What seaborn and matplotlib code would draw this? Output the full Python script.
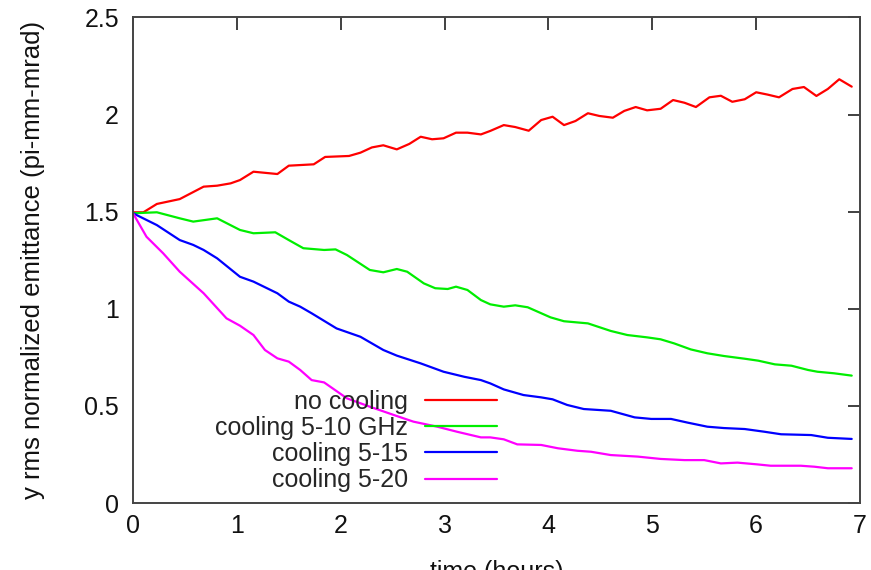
import matplotlib
matplotlib.use("Agg")
import matplotlib.pyplot as plt
import seaborn as sns
import pandas as pd

# ---- data ----
t_none = [0.0, 0.10, 0.23, 0.45, 0.68, 0.81, 0.94, 1.03, 1.16, 1.39, 1.50, 1.74, 1.85,
          2.08, 2.19, 2.30, 2.41, 2.54, 2.66, 2.77, 2.88, 2.99, 3.11, 3.22, 3.35, 3.44,
          3.57, 3.68, 3.81, 3.93, 4.04, 4.15, 4.26, 4.38, 4.49, 4.62, 4.73, 4.84, 4.95,
          5.08, 5.20, 5.31, 5.42, 5.55, 5.66, 5.77, 5.89, 6.00, 6.11, 6.22, 6.35, 6.46,
          6.58, 6.69, 6.80, 6.92]
v_none = [1.497, 1.497, 1.540, 1.565, 1.629, 1.634, 1.646, 1.663, 1.706, 1.694, 1.737,
          1.744, 1.782, 1.787, 1.804, 1.831, 1.842, 1.821, 1.849, 1.886, 1.873, 1.878,
          1.907, 1.907, 1.898, 1.916, 1.946, 1.936, 1.917, 1.972, 1.989, 1.946, 1.967,
          2.007, 1.993, 1.984, 2.019, 2.039, 2.022, 2.030, 2.075, 2.061, 2.039, 2.089,
          2.097, 2.066, 2.079, 2.115, 2.103, 2.089, 2.132, 2.142, 2.096, 2.132, 2.182,
          2.144]

t_510 = [0.0, 0.23, 0.45, 0.58, 0.81, 1.03, 1.16, 1.37, 1.50, 1.64, 1.84, 1.95, 2.06,
         2.28, 2.41, 2.54, 2.64, 2.80, 2.91, 3.03, 3.11, 3.22, 3.35, 3.44, 3.57, 3.68,
         3.80, 4.02, 4.15, 4.38, 4.60, 4.76, 4.95, 5.08, 5.21, 5.37, 5.53, 5.69, 5.89,
         6.02, 6.18, 6.34, 6.50, 6.59, 6.75, 6.92]
v_510 = [1.492, 1.497, 1.466, 1.449, 1.466, 1.406, 1.389, 1.394, 1.354, 1.312, 1.303,
         1.306, 1.277, 1.200, 1.188, 1.205, 1.191, 1.131, 1.106, 1.102, 1.114, 1.097,
         1.045, 1.023, 1.011, 1.018, 1.008, 0.956, 0.936, 0.925, 0.886, 0.865, 0.853,
         0.843, 0.822, 0.791, 0.771, 0.757, 0.743, 0.733, 0.714, 0.707, 0.685, 0.676,
         0.668, 0.656]

t_515 = [0.0, 0.23, 0.45, 0.58, 0.68, 0.81, 1.03, 1.16, 1.39, 1.50, 1.61, 1.72, 1.96,
         2.19, 2.41, 2.54, 2.77, 2.99, 3.19, 3.35, 3.44, 3.57, 3.76, 3.93, 4.04, 4.18,
         4.34, 4.60, 4.83, 4.99, 5.18, 5.34, 5.53, 5.69, 5.89, 6.08, 6.24, 6.53, 6.69,
         6.92]
v_515 = [1.492, 1.431, 1.354, 1.329, 1.303, 1.260, 1.165, 1.140, 1.080, 1.037, 1.011,
         0.977, 0.899, 0.856, 0.788, 0.759, 0.719, 0.676, 0.650, 0.633, 0.616, 0.585,
         0.556, 0.544, 0.534, 0.505, 0.484, 0.475, 0.441, 0.433, 0.433, 0.414, 0.393,
         0.386, 0.381, 0.367, 0.354, 0.350, 0.336, 0.330]

t_520 = [0.0, 0.13, 0.29, 0.45, 0.68, 0.90, 1.03, 1.16, 1.27, 1.39, 1.50, 1.61, 1.72,
         1.84, 2.06, 2.28, 2.54, 2.70, 2.93, 3.12, 3.35, 3.44, 3.57, 3.70, 3.93, 4.09,
         4.28, 4.41, 4.60, 4.86, 5.08, 5.31, 5.50, 5.66, 5.82, 6.01, 6.14, 6.43, 6.56,
         6.69, 6.92]
v_520 = [1.492, 1.371, 1.286, 1.191, 1.080, 0.951, 0.913, 0.865, 0.788, 0.745, 0.728,
         0.685, 0.633, 0.621, 0.539, 0.496, 0.448, 0.419, 0.393, 0.367, 0.338, 0.338,
         0.328, 0.302, 0.299, 0.282, 0.269, 0.264, 0.247, 0.239, 0.227, 0.221, 0.221,
         0.204, 0.208, 0.199, 0.192, 0.192, 0.187, 0.179, 0.179]

labels = ["no cooling", "cooling 5-10 GHz", "cooling 5-15", "cooling 5-20"]
colors = ["#ff0000", "#00ee00", "#0000ff", "#ff00ff"]
x_ticks = [0, 1, 2, 3, 4, 5, 6, 7]
y_ticks = [0, 0.5, 1, 1.5, 2, 2.5]
y_tick_labels = ["0", "0.5", "1", "1.5", "2", "2.5"]

frames = []
for lab, t, v in zip(labels, [t_none, t_510, t_515, t_520], [v_none, v_510, v_515, v_520]):
    frames.append(pd.DataFrame({"time": t, "emit": v, "series": lab}))
df = pd.concat(frames, ignore_index=True)

sns.set_style("white")
plt.rcParams["font.family"] = ["Liberation Sans", "DejaVu Sans"]

fig = plt.figure(figsize=(8.71, 5.70), dpi=100)
ax = fig.add_axes([0.1527, 0.1175, 0.8347, 0.8518])

sns.lineplot(data=df, x="time", y="emit", hue="series", hue_order=labels,
             palette=colors, linewidth=1.6, ax=ax, estimator=None, sort=False,
             legend=False)

ax.set_xlim(0, 7)
ax.set_ylim(0, 2.5)
ax.set_xticks(x_ticks)
ax.set_xticklabels([str(x) for x in x_ticks])
ax.set_yticks(y_ticks)
ax.set_yticklabels(y_tick_labels)
ax.tick_params(axis="both", which="major", direction="in", length=9, width=1.2,
               color="#202020", labelsize=18, labelcolor="#111111",
               top=True, right=True, pad=10)
ax.tick_params(axis="x", pad=8)
for s in ax.spines.values():
    s.set_visible(True)
    s.set_color("#444444")
    s.set_linewidth(1.4)

ax.set_xlabel("time (hours)", fontsize=18, labelpad=16, color="#111111")
ax.set_ylabel("y rms normalized emittance (pi-mm-mrad)", fontsize=18.5,
              labelpad=28, color="#111111")

handles = [plt.Line2D([], [], color=c, linewidth=1.6) for c in colors]
ax.legend(handles, labels, loc="lower right", bbox_to_anchor=(0.5007, 0.022),
          frameon=False, markerfirst=False, fontsize=18, handlelength=2.9,
          handletextpad=0.65, labelspacing=0.09, borderpad=0, borderaxespad=0)

fig.savefig("out.png", dpi=100)
